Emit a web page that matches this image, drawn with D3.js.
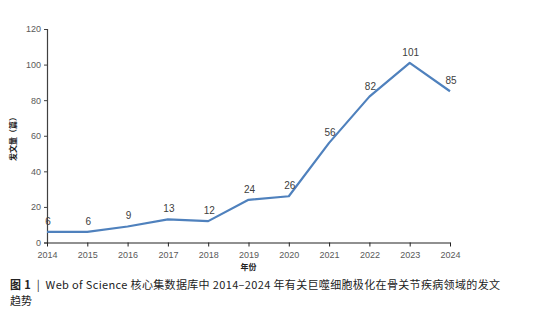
<!DOCTYPE html>
<html>
<head>
<meta charset="utf-8">
<script src="https://cdn.jsdelivr.net/npm/d3@7"></script>
<style>
  body { margin: 0; background: #fff; }
  svg { display: block; }
</style>
</head>
<body>
<div id="chart"></div>
<script>
var years = ["2014", "2015", "2016", "2017", "2018", "2019", "2020", "2021", "2022", "2023", "2024"];
var counts = [6, 6, 9, 13, 12, 24, 26, 56, 82, 101, 85];
var yTicks = [0, 20, 40, 60, 80, 100, 120];

var width = 542, height = 318;
var margin = { top: 29, left: 47, right: 92, bottom: 76 };

var svg = d3.select("#chart").append("svg")
    .attr("width", width)
    .attr("height", height);

var x = d3.scalePoint()
    .domain(years)
    .range([margin.left, width - margin.right]);

var y = d3.scaleLinear()
    .domain([0, 120])
    .range([height - margin.bottom + 0.5, margin.top]);

// y axis
var yAxis = svg.append("g")
    .attr("transform", "translate(" + margin.left + ",0)")
    .call(d3.axisLeft(y).tickValues(yTicks).tickSize(3).tickPadding(3));
yAxis.select(".domain").attr("stroke", "#404040").attr("stroke-width", 1.2);
yAxis.selectAll(".tick line").attr("stroke", "#404040");
yAxis.selectAll("text")
    .attr("fill", "#595959")
    .style("font-family", "Liberation Sans, Arial, sans-serif")
    .style("font-size", "9px");

// x axis
var xAxis = svg.append("g")
    .attr("transform", "translate(0," + y(0) + ")")
    .call(d3.axisBottom(x).tickSizeInner(4).tickSizeOuter(0).tickPadding(5));
xAxis.select(".domain").attr("stroke", "#222").attr("stroke-width", 1.2);
xAxis.selectAll(".tick line").attr("stroke", "#222");
xAxis.selectAll("text")
    .attr("fill", "#595959")
    .style("font-family", "Liberation Sans, Arial, sans-serif")
    .style("font-size", "9px");

// axis titles
svg.append("text")
    .attr("x", (margin.left + width - margin.right) / 2)
    .attr("y", 270)
    .attr("text-anchor", "middle")
    .attr("fill", "#222")
    .style("font-family", "Noto Sans CJK SC")
    .style("font-size", "8px")
    .style("font-weight", "bold")
    .text("年份");

svg.append("text")
    .attr("transform", "translate(16,137) rotate(-90)")
    .attr("text-anchor", "middle")
    .attr("fill", "#222")
    .style("font-family", "Noto Sans CJK SC")
    .style("font-size", "8px")
    .style("font-weight", "bold")
    .text("发文量（篇）");

// line
var line = d3.line()
    .x(function (d, i) { return x(years[i]); })
    .y(function (d) { return y(d); });

svg.append("path")
    .datum(counts)
    .attr("d", line)
    .attr("fill", "none")
    .attr("stroke", "#4F81BD")
    .attr("stroke-width", 2.2)
    .attr("stroke-linejoin", "round");

// data labels
svg.selectAll(".lbl")
    .data(counts)
    .enter().append("text")
    .attr("class", "lbl")
    .attr("x", function (d, i) { return x(years[i]) + 1; })
    .attr("y", function (d) { return y(d) - 7; })
    .attr("text-anchor", "middle")
    .attr("fill", "#404040")
    .style("font-family", "Liberation Sans, Arial, sans-serif")
    .style("font-size", "10px")
    .text(function (d) { return d; });

// caption
var cap = svg.append("text")
    .attr("x", 10)
    .attr("y", 289)
    .attr("fill", "#222")
    .style("font-family", "Noto Sans CJK SC")
    .style("font-size", "11px")
    .style("white-space", "pre")
    .attr("textLength", 490)
    .attr("lengthAdjust", "spacing");
cap.append("tspan").style("font-weight", "bold").text("图 1");
cap.append("tspan").text("  |  Web of Science 核心集数据库中 2014–2024 年有关巨噬细胞极化在骨关节疾病领域的发文");

svg.append("text")
    .attr("x", 10)
    .attr("y", 305)
    .attr("fill", "#222")
    .style("font-family", "Noto Sans CJK SC")
    .style("font-size", "11px")
    .text("趋势");
</script>
</body>
</html>
